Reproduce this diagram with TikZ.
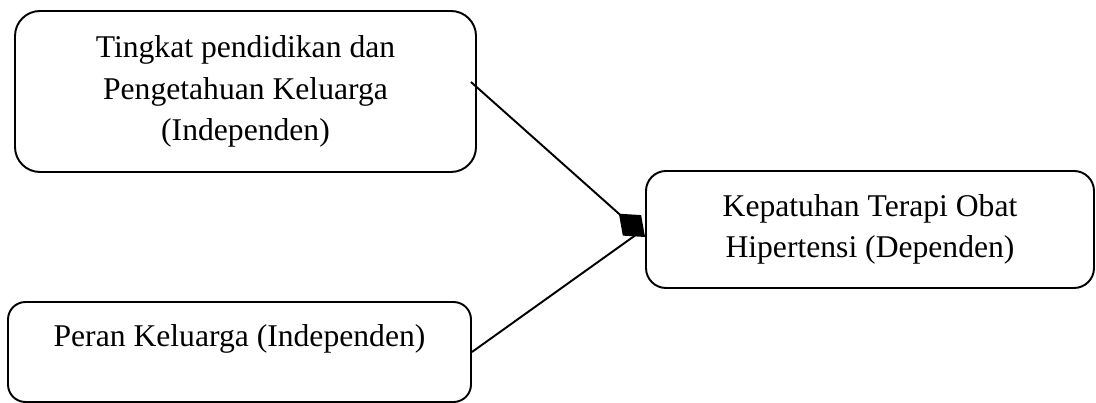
\documentclass[tikz,border=0pt]{standalone}
\usepackage{fontspec}
\setmainfont{Liberation Serif}
\usetikzlibrary{arrows.meta,positioning,calc}

\begin{document}
\begin{tikzpicture}[
      box/.style={draw, line width=1.1pt, align=center, inner sep=0pt,
                  font=\fontsize{18}{23.4}\selectfont},
      arr/.style={-{Diamond[length=0.7cm, width=0.55cm]}, line width=1.1pt}
    ]
      \useasboundingbox (0,0) rectangle (21.92,8.06);
      \node[box, rounded corners=0.5cm, minimum width=9.22cm, minimum height=3.22cm] (tingkat) at (4.91,6.23) {Tingkat pendidikan dan\\Pengetahuan Keluarga\\(Independen)};
      \node[box, rounded corners=0.4cm, minimum width=8.96cm, minimum height=2.34cm] (kepatuhan) at (17.4,3.47) {Kepatuhan Terapi Obat\\Hipertensi (Dependen)};
      \node[box, rounded corners=0.35cm, minimum width=9.26cm, minimum height=2.0cm, text height=0.5cm, text depth=0.7cm] (peran) at (4.79,1.02) {Peran Keluarga (Independen)};
      \draw[arr] ([shift={(-0.12,0.19)}]tingkat.east) -- ([yshift=-0.15cm]kepatuhan.west);
      \draw[line width=1.1pt] (peran.east) -- ([shift={(-0.2,-0.12)}]kepatuhan.west);
    \end{tikzpicture}
\end{document}
